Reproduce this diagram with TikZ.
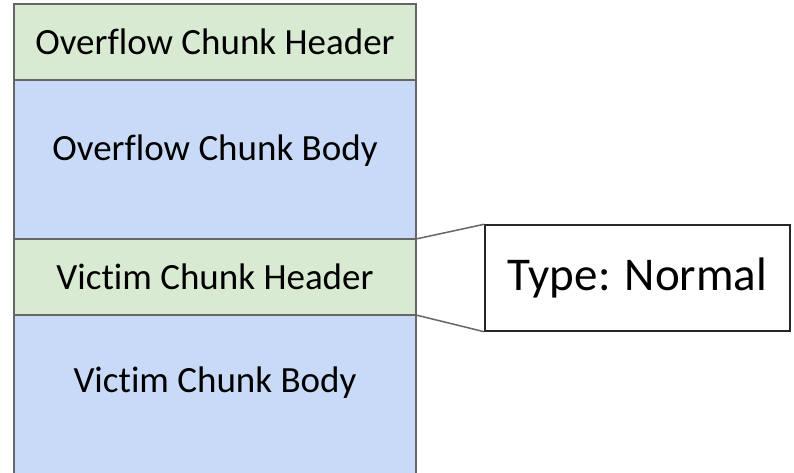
\documentclass[tikz,border=0pt]{standalone}
\usepackage{fontspec}
\setmainfont{Carlito}[Ligatures=NoCommon]
\usetikzlibrary{positioning}

\definecolor{hdrgreen}{HTML}{D9EAD3}
\definecolor{bodyblue}{HTML}{C9DAF8}
\definecolor{edgegray}{HTML}{666666}

\begin{document}
\begin{tikzpicture}[x=1pt, y=-1pt,
    chunk/.style={draw=edgegray, line width=1.5pt, minimum width=402pt,
      inner sep=0pt, outer sep=0pt, font=\fontsize{37}{42}\selectfont},
    header/.style={chunk, fill=hdrgreen, minimum height=76pt},
    body/.style={chunk, fill=bodyblue},
    tag/.style={font=\fontsize{37}{42}\selectfont}]
    \useasboundingbox (0,0) rectangle (794,473);
    \clip (0,0) rectangle (794,473);

    % overflowing chunk
    \node[header] (ovhdr) at (215,42) {Overflow Chunk Header};
    \node[body, minimum height=159pt, below=0pt of ovhdr] (ovbody) {};
    \node[tag] (ovtext) at ([yshift=-71pt]ovbody.north) {Overflow Chunk Body};

    % victim chunk, body runs off the bottom
    \node[header, below=0pt of ovbody] (vchdr) {Victim Chunk Header};
    \node[body, minimum height=180pt, below=0pt of vchdr] (vcbody) {};
    \node[tag] (vctext) at ([yshift=-68pt]vcbody.north) {Victim Chunk Body};

    % callout for the victim header
    \node[draw=black!85, line width=1.5pt, minimum width=305pt, minimum height=106pt,
      font=\fontsize{47}{52}\selectfont] (kind) at (637.5,278) {Type: Normal};
    \draw[edgegray, line width=1.5pt]
    (vchdr.north east) -- (kind.north west)
    (vchdr.south east) -- (kind.south west);
\end{tikzpicture}
\end{document}
